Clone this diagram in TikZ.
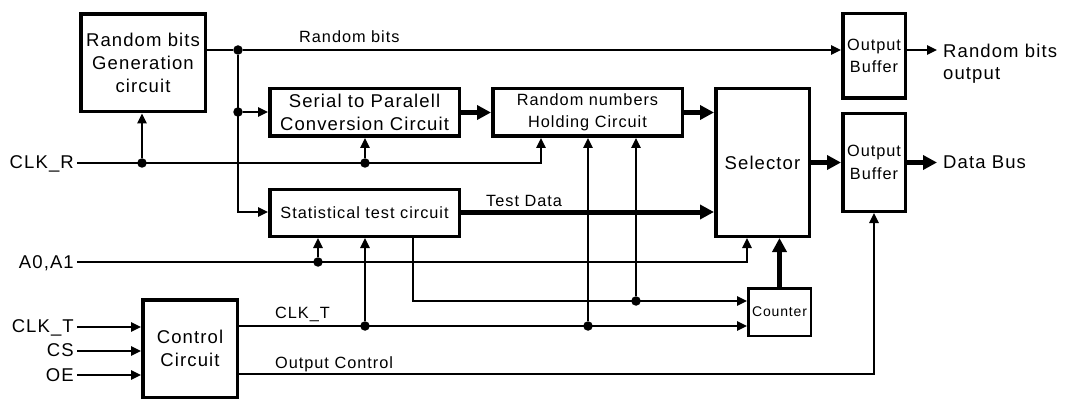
\documentclass[tikz,border=0pt]{standalone}
\usepackage{fontspec}
\setmainfont{Liberation Sans}[LetterSpace=6]
\usetikzlibrary{arrows.meta}
\newcommand\fbig{\fontsize{18.5}{23}\selectfont}
\newcommand\fmed{\fontsize{16.3}{22.5}\selectfont}
\newcommand\fsml{\fontsize{14}{16}\selectfont}
\begin{document}
\begin{tikzpicture}[x=1pt,y=-1pt,
 box/.style={draw, line width=3.5pt, inner sep=0pt, align=center},
 wire/.style={line width=1.3pt},
 arr/.style={wire, -{Triangle[length=10pt,width=9.5pt]}},
 bus/.style={line width=5pt, -{Triangle[length=14pt,width=14pt]}},
 dot/.style={circle, fill, inner sep=0pt, minimum size=9.5pt},
 lab/.style={inner sep=0pt}
]
\useasboundingbox (0,0) rectangle (1066,401);
% boxes
\node[box, minimum width=124.5pt, minimum height=97.5pt, font=\fbig] (rbg) at (143,63) {Random bits\\Generation\\circuit};
\node[box, minimum width=189.5pt, minimum height=47.5pt, font=\fbig] (s2p) at (364.5,112.5) {Serial to Paralell\\Conversion Circuit};
\node[box, minimum width=189.5pt, minimum height=47.5pt, font=\fmed] (hold) at (587.5,112.5) {Random numbers\\Holding Circuit};
\node[box, minimum width=93.5pt, minimum height=147.5pt, font=\fbig] (sel) at (762.5,162.5) {Selector};
\node[box, minimum width=62.5pt, minimum height=84.5pt, font=\fmed] (ob1) at (874,56) {Output\\Buffer};
\node[box, minimum width=62.5pt, minimum height=97.5pt, font=\fmed] (ob2) at (874,162.5) {Output\\Buffer};
\node[box, minimum width=189.5pt, minimum height=46.5pt, font=\fmed] (stat) at (364.5,213) {Statistical test circuit};
\node[box, minimum width=94.5pt, minimum height=97.5pt, font=\fbig] (ctrl) at (190,348.5) {Control\\Circuit};
\node[box, line width=2.5pt, minimum width=62.5pt, minimum height=47.5pt, font=\fsml] (cnt) at (779.5,312) {Counter};
% junction dots
\node[dot] (j1) at (238,50) {};
\node[dot] (j2) at (238,112) {};
\node[dot] (r1) at (142,163) {};
\node[dot] (r2) at (365,163) {};
\node[dot] (a1) at (318,262) {};
\node[dot] (t1) at (365,326) {};
\node[dot] (t2) at (588,326) {};
\node[dot] (s1) at (636,301) {};
% coordinates
\coordinate (c1) at (238,212);
\coordinate (r0) at (77,163);
\coordinate (r3) at (541,163);
\coordinate (a0) at (77,262);
\coordinate (a3) at (747,262);
\coordinate (s0) at (413,301);
\coordinate (o1) at (874,374);
\coordinate (i1) at (77,327);
\coordinate (i2) at (77,351);
\coordinate (i3) at (77,375);
\coordinate (ob1out) at (937,50);
\coordinate (dbend) at (937,162.5);
% random bits line
\draw[arr] (rbg.east |- j1) -- (j1) -- (ob1.west |- j1);
\draw[arr] (j1) -- (c1) -- (stat.west |- c1);
\draw[arr] (j2) -- (s2p.west |- j2);
\draw[arr] (ob1.east |- j1) -- (ob1out);
% CLK_R
\draw[arr] (r0) -- (r3) -- (r3 |- hold.south);
\draw[arr] (r1) -- (r1 |- rbg.south);
\draw[arr] (r2) -- (r2 |- s2p.south);
% buses
\draw[bus] (s2p.east) -- (hold.west);
\draw[bus] (hold.east) -- (sel.west |- hold.east);
\draw[bus] (stat.east |- c1) -- (sel.west |- c1);
\draw[bus] (sel.east) -- (ob2.west);
\draw[bus] (ob2.east) -- (dbend);
\draw[bus] (cnt.north) -- (cnt.north |- sel.south);
% A0,A1
\draw[arr] (a0) -- (a3) -- (a3 |- sel.south);
\draw[arr] (a1) -- (a1 |- stat.south);
% control inputs
\draw[arr] (i1) -- (ctrl.west |- i1);
\draw[arr] (i2) -- (ctrl.west |- i2);
\draw[arr] (i3) -- (ctrl.west |- i3);
% CLK_T
\draw[arr] (ctrl.east |- t1) -- (cnt.west |- t1);
\draw[arr] (t1) -- (t1 |- stat.south);
\draw[arr] (t2) -- (t2 |- hold.south);
% stat tap
\draw[arr] (s0 |- stat.south) -- (s0) -- (cnt.west |- s0);
\draw[arr] (s1) -- (s1 |- hold.south);
% output control
\draw[arr] (ctrl.east |- o1) -- (o1) -- (ob2.south);
% labels
\node[lab, anchor=base west, font=\fmed] (lrb) at (299,43) {Random bits};
\node[lab, anchor=base west, font=\fmed] (ltd) at (486,206) {Test Data};
\node[lab, anchor=base west, font=\fmed] (lct) at (275,318) {CLK\_T};
\node[lab, anchor=base west, font=\fmed] (loc) at (275,368) {Output Control};
\node[lab, anchor=base east, font=\fbig] (lclkr) at (74,169) {CLK\_R};
\node[lab, anchor=base east, font=\fbig] (la0) at (74,268) {A0,A1};
\node[lab, anchor=base east, font=\fbig] (lclkt) at (74,332) {CLK\_T};
\node[lab, anchor=base east, font=\fbig] (lcs) at (74,356) {CS};
\node[lab, anchor=base east, font=\fbig] (loe) at (74,381) {OE};
\node[lab, anchor=base west, font=\fbig] (lrbo1) at (943,58) {Random bits};
\node[lab, anchor=base west, font=\fbig] (lrbo2) at (943,80) {output};
\node[lab, anchor=base west, font=\fbig] (ldb) at (943,168) {Data Bus};
\end{tikzpicture}
\end{document}
